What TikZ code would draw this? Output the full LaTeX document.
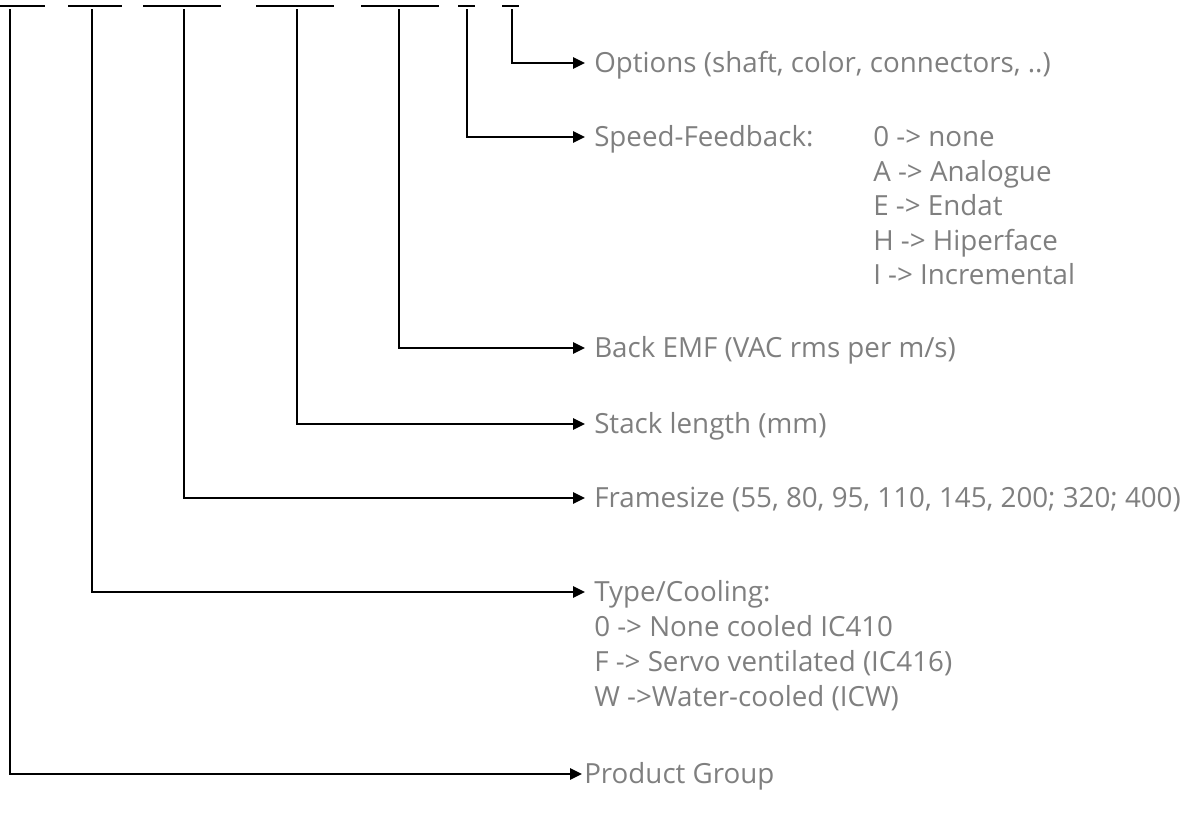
\documentclass[tikz,border=0pt]{standalone}
\usepackage{fontspec}
\setmainfont{Open Sans}
\usetikzlibrary{arrows.meta,positioning,calc}
\definecolor{labelgray}{HTML}{7F7F7F}

\begin{document}
\begin{tikzpicture}[x=0.75pt,y=-0.75pt,
    seg/.style={line width=1.5pt},
    conn/.style={line width=1.5pt,-{Triangle[length=9pt,width=8.5pt]}},
    lbl/.style={anchor=west,inner xsep=6.75pt,inner ysep=0pt,text=labelgray,
        font=\fontsize{20.8}{27}\selectfont,text height=17.5pt,text depth=3pt}]
    \useasboundingbox (0,0) rectangle (1186,822);

    % Code positions - marks on top
    \foreach \xa/\xb/\name/\xl in {0/45/pg/10, 68/122/tc/92, 143/221/fs/184,
        256/334/sl/297, 361/439/em/399, 458/475/sf/467, 502/519/op/512}{
        \draw[seg] (\xa,6) -- (\xb,6);
        \coordinate (\name) at (\xl,9);
    }

    % Labels
    \node[lbl] (opl) at (585,63) {Options (shaft, color, connectors, ..)};
    \node[lbl] (sfl) at (585,137) {Speed-Feedback:};
    \foreach \t [count=\i from 0] in {0 -> none, A -> Analogue, E -> Endat,
        H -> Hiperface, I -> Incremental}
        \node[lbl,inner xsep=0pt] (sfv\i) at (873,137+\i*34.5) {\t};
    \node[lbl] (eml) at (585,348) {Back EMF (VAC rms per m/s)};
    \node[lbl] (sll) at (585,424) {Stack length (mm)};
    \node[lbl] (fsl) at (585,498) {Framesize (55, 80, 95, 110, 145, 200; 320; 400)};
    \node[lbl] (tcl) at (585,592) {Type/Cooling:};
    \foreach \t [count=\i from 1] in {0 -> None cooled IC410,
        F -> Servo ventilated (IC416), W ->Water-cooled (ICW)}
        \node[lbl,inner xsep=0pt] (tcv\i) at (594,592+\i*35) {\t};
    \node[lbl,inner xsep=1.5pt] (pgl) at (582,774) {Product Group};

    % Arrows
    \draw[conn] (op) |- (opl.west);
    \draw[conn] (sf) |- (sfl.west);
    \draw[conn] (em) |- (eml.west);
    \draw[conn] (sl) |- (sll.west);
    \draw[conn] (fs) |- (fsl.west);
    \draw[conn] (tc) |- (tcl.west);
    \draw[conn] (pg) |- (pgl.west);
\end{tikzpicture}
\end{document}
